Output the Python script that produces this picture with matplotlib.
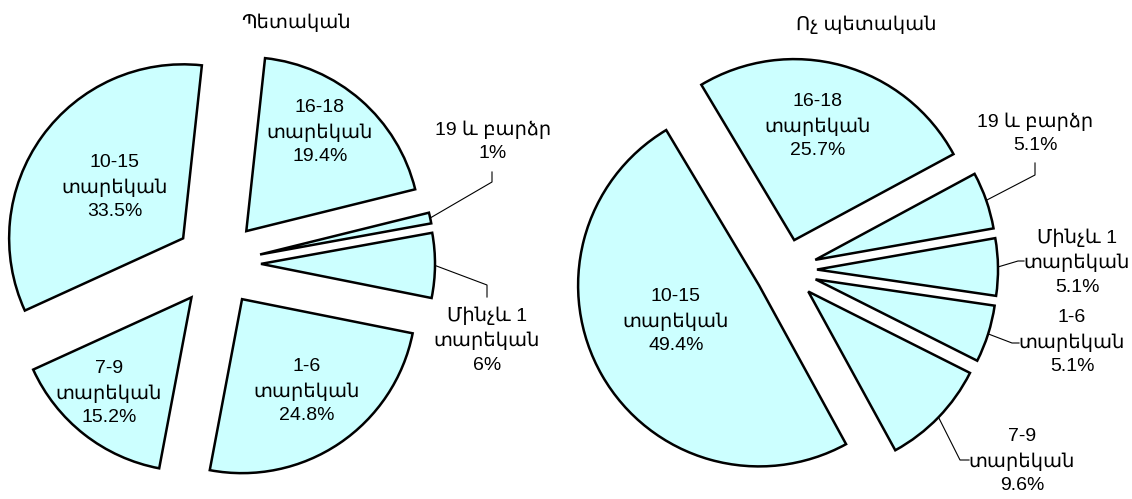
import math
import matplotlib.pyplot as plt

plt.rcParams['font.family'] = ['Liberation Sans', 'DejaVu Sans']
plt.rcParams['font.size'] = 14

# age groups, clockwise from the right side of each pie
age_groups = ["Մինչև 1\nտարեկան", "1-6\nտարեկան", "7-9\nտարեկան",
              "10-15\nտարեկան", "16-18\nտարեկան", "19 և բարձր"]
state_share = [6, 24.8, 15.2, 33.5, 19.4, 1]
private_share = [5.1, 5.1, 9.6, 49.4, 25.7, 5.1]
titles = ["Պետական", "Ոչ պետական"]

W, H = 1132, 499
fig = plt.figure(figsize=(W / 100, H / 100), dpi=100)


def make_pie(values, cx, cy, r, gap, start):
    # one transparent axes per pie, 1 data unit = radius in pixels
    ax = fig.add_axes([0, 0, 1, 1])
    ax.patch.set_visible(False)
    wedges, _ = ax.pie(values, explode=[gap / r] * len(values), startangle=start,
                       counterclock=False, colors=["#ccffff"] * len(values),
                       wedgeprops=dict(edgecolor="black", linewidth=1.8))
    ax.set_aspect("auto")
    ax.set_xlim(-cx / r, (W - cx) / r)
    ax.set_ylim((cy - H) / r, cy / r)
    ax.axis("off")

    def to_data(x, y):
        return (x - cx) / r, (cy - y) / r
    return ax, wedges, to_data


def add_labels(ax, wedges, to_data, values, label_px, leaders):
    for i, (w, v) in enumerate(zip(wedges, values)):
        txt = f"{age_groups[i]}\n{v:g}%"
        x, y = to_data(*label_px[i])
        ax.text(x, y, txt, ha="center", va="center", multialignment="center",
                linespacing=1.5)
        if i in leaders:
            tm = math.radians((w.theta1 + w.theta2) / 2)
            sx = w.center[0] + w.r * math.cos(tm)
            sy = w.center[1] + w.r * math.sin(tm)
            pts = [to_data(*p) for p in leaders[i]]
            xs = [sx] + [p[0] for p in pts]
            ys = [sy] + [p[1] for p in pts]
            ax.plot(xs, ys, color="black", lw=0.8, clip_on=False)


# left pie: state
ax1, w1, conv1 = make_pie(state_share, 218, 263.5, 174, 43, 10.3)
add_labels(ax1, w1, conv1, state_share,
           [(487, 340), (307, 391), (109, 393), (115, 187), (320, 132), (493, 141.5)],
           {0: [(487, 285), (487, 297)], 5: [(492, 182), (492, 172)]})

# right pie: non-state
ax2, w2, conv2 = make_pie(private_share, 786, 270, 181, 31, 10)
add_labels(ax2, w2, conv2, private_share,
           [(1077, 262), (1072, 342), (1022, 461), (676, 321), (818, 126), (1035, 133.5)],
           {0: [(1018, 261), (1024, 261)], 1: [(1012, 343), (1019, 343)],
            2: [(960, 460), (969, 460)], 5: [(1035, 175), (1035, 163)]})

fig.text(296 / W, 1 - 23 / H, titles[0], ha="center", va="center")
fig.text(866 / W, 1 - 25 / H, titles[1], ha="center", va="center")

fig.savefig("out.png", dpi=100)
